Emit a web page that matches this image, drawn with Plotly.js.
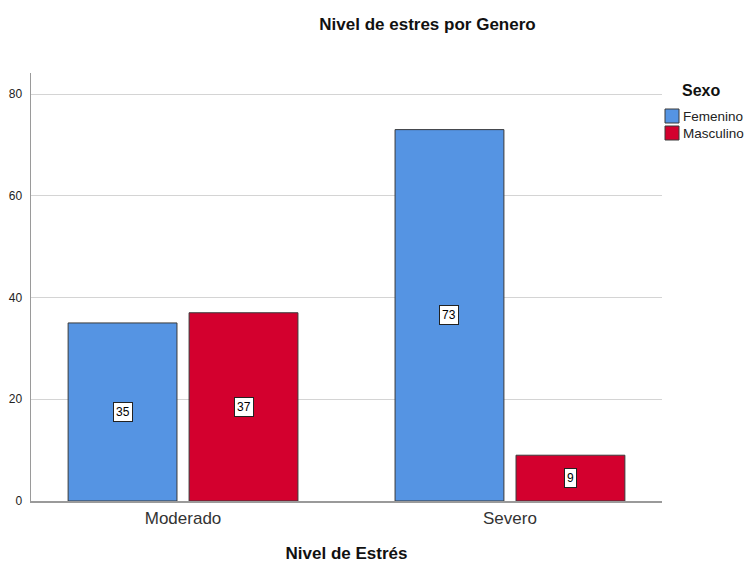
<!DOCTYPE html>
<html>
<head>
<meta charset="utf-8">
<script src="https://cdn.plot.ly/plotly-3.0.1.min.js"></script>
<style>html,body{margin:0;padding:0;background:#fff}#chart{width:748px;height:563px}</style>
</head>
<body>
<div id="chart"></div>
<script>
var categories = ["Moderado", "Severo"];
var seriesNames = ["Femenino", "Masculino"];
var femenino = [35, 73];
var masculino = [37, 9];
var yTicks = [0, 20, 40, 60, 80];

var colors = ["#5594E3", "#D3002E"];
var values = [femenino, masculino];
var L = 31, R = 662, T = 73, B = 501, W = 748, H = 563;

var traces = values.map(function (v, i) {
  return {
    type: "bar", x: categories, y: v, name: seriesNames[i],
    marker: { color: colors[i], line: { color: "#3a3a3a", width: 1 } },
    hoverinfo: "x+y+name"
  };
});

var offsets = [-0.185, 0.185];
var annotations = [];
values.forEach(function (v, i) {
  v.forEach(function (val, j) {
    annotations.push({
      x: j + offsets[i], y: val / 2, xref: "x", yref: "y",
      text: String(val), showarrow: false,
      font: { family: "Liberation Sans, Arial", size: 12, color: "#000" },
      bgcolor: "#ffffff", bordercolor: "#222", borderwidth: 1, borderpad: 2
    });
  });
});

function px(x) { return (x - L) / (R - L); }
function py(y) { return (B - y) / (B - T); }

// legend (custom, SPSS style)
annotations.push({
  x: px(701), y: py(91), xref: "paper", yref: "paper", text: "<b>Sexo</b>",
  showarrow: false, xanchor: "center", yanchor: "middle",
  font: { family: "Liberation Sans, Arial", size: 16, color: "#111" }
});
var shapes = [];
seriesNames.forEach(function (n, i) {
  var top = 109 + i * 17;
  shapes.push({
    type: "rect", xref: "paper", yref: "paper",
    x0: px(665), x1: px(679), y0: py(top + 14), y1: py(top),
    fillcolor: colors[i], line: { color: "#3a3a3a", width: 1 }
  });
  annotations.push({
    x: px(681), y: py(top + 7), xref: "paper", yref: "paper", text: n,
    showarrow: false, xanchor: "left", yanchor: "middle",
    font: { family: "Liberation Sans, Arial", size: 13.5, color: "#222" }
  });
});

var layout = {
  width: W, height: H,
  margin: { l: L, r: W - R, t: T, b: H - B, pad: 0 },
  paper_bgcolor: "#fff", plot_bgcolor: "#fff",
  showlegend: false,
  barmode: "group", bargap: 0.26, bargroupgap: 0.1,
  title: {
    text: "<b>Nivel de estres por Genero</b>",
    x: px(427.5), xref: "paper", xanchor: "center",
    y: 1 - 24 / H, yref: "container", yanchor: "middle",
    font: { family: "Liberation Sans, Arial", size: 17, color: "#111" }
  },
  xaxis: {
    type: "category", range: [-0.465, 1.465],
    showgrid: false, zeroline: false,
    showline: true, linecolor: "#9a9a9a", linewidth: 1.5,
    ticks: "", ticklabelstandoff: 1,
    tickfont: { family: "Liberation Sans, Arial", size: 17, color: "#333" },
    title: {
      text: "<b>Nivel de Estrés</b>", standoff: 21,
      font: { family: "Liberation Sans, Arial", size: 17, color: "#111" }
    }
  },
  yaxis: {
    range: [0, (B - T) / ((B - 94) / 80)],
    tickvals: yTicks, ticktext: yTicks.map(String),
    showgrid: true, gridcolor: "#d4d4d4", gridwidth: 1,
    zeroline: false,
    showline: true, linecolor: "#9a9a9a", linewidth: 1.5,
    ticks: "", ticklabelstandoff: 5,
    tickfont: { family: "Liberation Sans, Arial", size: 12, color: "#222" }
  },
  annotations: annotations,
  shapes: shapes
};

Plotly.newPlot("chart", traces, layout, { displayModeBar: false, staticPlot: true });
</script>
</body>
</html>
